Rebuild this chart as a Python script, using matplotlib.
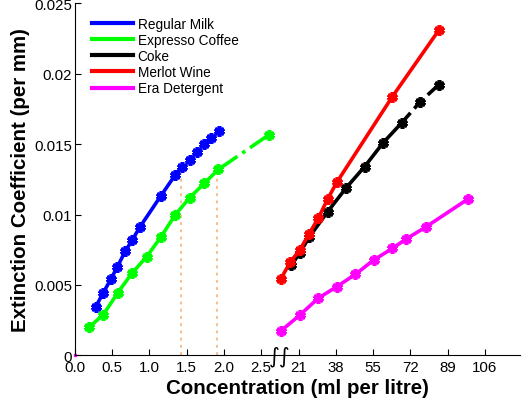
import numpy as np
import matplotlib
matplotlib.use("Agg")
import matplotlib.pyplot as plt
import matplotlib.transforms as mtransforms
from matplotlib.ticker import FixedLocator, FixedFormatter

plt.rcParams['font.family'] = ['Liberation Sans', 'DejaVu Sans']

# Measured extinction coefficients (per mm) vs concentration (ml per litre)
milk_x = [0.28, 0.38, 0.48, 0.57, 0.675, 0.77, 0.87, 1.15, 1.345, 1.443]
milk_y = [0.00347, 0.00446, 0.0054, 0.0063, 0.0074, 0.0082, 0.0091, 0.0113, 0.0128, 0.0134]
milk_sat_x = [1.542, 1.635, 1.734, 1.832, 1.930]
milk_sat_y = [0.0139, 0.0144, 0.0150, 0.0154, 0.0159]

coffee_x = [0.19, 0.38, 0.576, 0.764, 0.961, 1.153, 1.349, 1.542, 1.734, 1.926]
coffee_y = [0.0020, 0.0029, 0.00446, 0.00583, 0.0070, 0.0084, 0.0100, 0.0112, 0.0122, 0.0132]
coffee_sat_x = [1.926, 2.60]
coffee_sat_y = [0.0132, 0.01564]

coke_x = [17.6, 21.6, 25.8, 34.2, 42.7, 51.1, 59.6, 68.0]
coke_y = [0.0064, 0.0073, 0.0084, 0.0102, 0.0119, 0.0134, 0.0151, 0.0165]
coke_sat_x = [68.0, 76.5, 84.9]
coke_sat_y = [0.0165, 0.0180, 0.0192]

wine_x = [12.9, 17.2, 21.45, 25.7, 29.9, 34.2, 38.45, 63.7, 84.9]
wine_y = [0.00545, 0.00665, 0.00747, 0.00863, 0.00973, 0.0111, 0.0123, 0.01835, 0.02306]

detergent_x = [12.9, 21.45, 29.9, 38.45, 46.9, 55.2, 63.7, 70.2, 78.9, 98.3]
detergent_y = [0.00175, 0.00286, 0.00406, 0.00489, 0.00576, 0.00677, 0.00759, 0.00828, 0.0091, 0.0111]

# end of the linear range for milk and coffee
limit_x = [1.43, 1.908]
limit_y = [0.0134, 0.0132]

x_ticks = [0.0, 0.5, 1.0, 1.5, 2.0, 2.5, 21, 38, 55, 72, 89, 106]
x_ticklabels = ["0.0", "0.5", "1.0", "1.5", "2.0", "2.5", "21", "38", "55", "72", "89", "106"]
y_ticks = [0, 0.005, 0.01, 0.015, 0.02, 0.025]
y_ticklabels = ["0", "0.005", "0.01", "0.015", "0.02", "0.025"]

# broken x axis: 0..2.75 at 0.5 per step, then 12.5.. at 17 per step
BRK_LO, BRK_HI, EPS = 2.75, 12.5, 1e-3
GAP = (BRK_HI - BRK_LO) * EPS


def fwd(x):
    x = np.asarray(x, dtype=float)
    return np.where(x <= BRK_LO, x / 0.5,
                    np.where(x < BRK_HI, 5.5 + (x - BRK_LO) * EPS,
                             5.5 + GAP + (x - BRK_HI) / 17.0))


def inv(u):
    u = np.asarray(u, dtype=float)
    return np.where(u <= 5.5, u * 0.5,
                    np.where(u < 5.5 + GAP, BRK_LO + (u - 5.5) / EPS,
                             BRK_HI + (u - 5.5 - GAP) * 17.0))


fig = plt.figure(figsize=(5.22, 4.06), dpi=100)
ax = fig.add_axes([0.1437, 0.122, 0.8523, 0.868])
ax.set_xscale('function', functions=(fwd, inv))

mk = dict(marker=(6, 2, 0), markersize=7.5, markeredgewidth=2.7)
lw = 2.6

for lx, ly in zip(limit_x, limit_y):
    ax.plot([lx, lx], [0, ly], color='#f6a35c', lw=1.3, ls=(0, (1.6, 2.4)), alpha=0.75, zorder=1)

ax.plot(milk_x, milk_y, '-', color='#0000ff', lw=lw, label='Regular Milk', **mk)
ax.plot(milk_sat_x, milk_sat_y, 'none', color='#0000ff', **mk)

ax.plot(coffee_x, coffee_y, '-', color='#00ff00', lw=lw, label='Expresso Coffee', **mk)
ax.plot(coffee_sat_x, coffee_sat_y, '-.', color='#00ff00', lw=lw, markevery=[1], **mk)

ax.plot(coke_x, coke_y, '-', color='black', lw=lw, label='Coke', **mk)
ax.plot(coke_sat_x, coke_sat_y, '--', color='black', lw=lw, markevery=[1, 2], **mk)

ax.plot(wine_x, wine_y, '-', color='#ff0000', lw=lw, label='Merlot Wine', **mk)
ax.plot(detergent_x, detergent_y, '-', color='#ff00ff', lw=lw, label='Era Detergent', **mk)
ax.plot([0], [0], 's', color='#ff00ff', markersize=2, clip_on=False)

ax.set_xlim(0, 122)
ax.set_ylim(0, 0.025)
ax.xaxis.set_major_locator(FixedLocator(x_ticks))
ax.xaxis.set_major_formatter(FixedFormatter(x_ticklabels))
ax.xaxis.set_minor_locator(FixedLocator([]))
ax.set_yticks(y_ticks)
ax.set_yticklabels(y_ticklabels)

ax.spines['top'].set_visible(False)
ax.spines['right'].set_visible(False)
ax.tick_params(direction='in', length=4, width=0.8, labelsize=10.8, pad=2)
ax.tick_params(axis='x', pad=3)

# axis break mark
trans = mtransforms.blended_transform_factory(ax.transData, ax.transAxes)
ax.text(7.6, 0.0, "\u222b\u222b", transform=trans, ha='center', va='center',
        fontsize=15, family=['DejaVu Sans'], clip_on=False)

ax.set_xlabel("Concentration (ml per litre)", fontsize=14.8, fontweight='bold', labelpad=3)
ax.set_ylabel("Extinction Coefficient (per mm)", fontsize=14.8, fontweight='bold', labelpad=3)

leg = ax.legend(loc='upper left', frameon=False, fontsize=9.8, handlelength=3.0,
                handletextpad=0.37, labelspacing=0.16, borderaxespad=0.6,
                bbox_to_anchor=(0.007, 1.0))
for h in leg.get_lines():
    h.set_marker('')
    h.set_linewidth(3)

fig.savefig("out.png", dpi=100)
